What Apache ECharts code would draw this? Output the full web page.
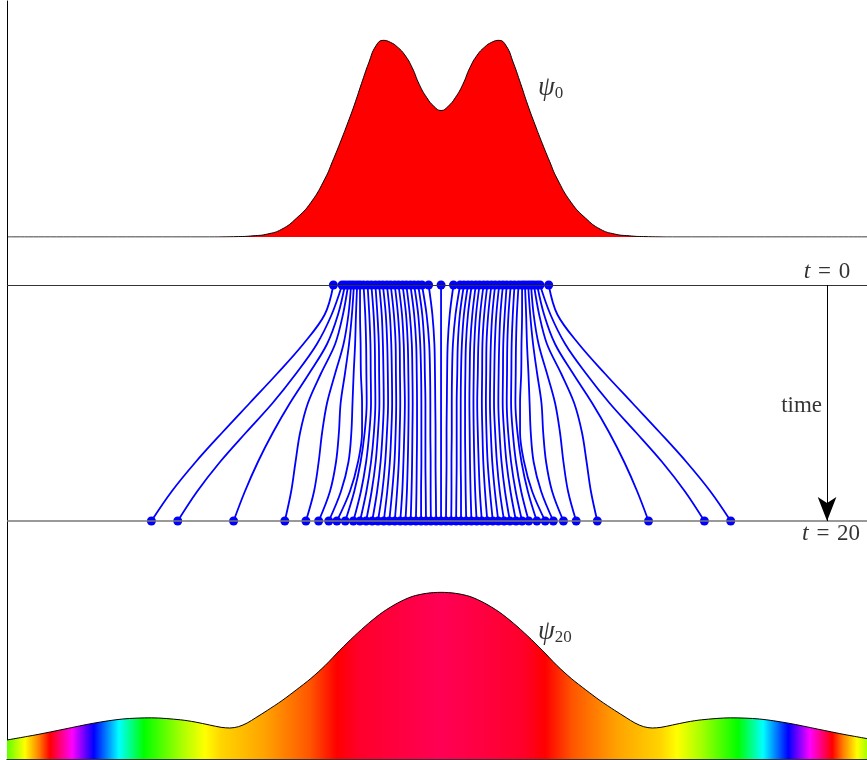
<!DOCTYPE html>
<html>
<head>
<meta charset="utf-8">
<script src="https://cdn.jsdelivr.net/npm/echarts@6/dist/echarts.min.js"></script>
<style>
  html, body { margin: 0; padding: 0; background: #ffffff; }
  #chart { width: 867px; height: 760px; }
</style>
</head>
<body>
<div id="chart"></div>
<script>
// Position axis shared by all three panels: the simulation box is [-15, 15],
// the visible window stops a little short of the right wall
const boxMin = -15, boxMax = 15;
const viewMax = 14.72;

// Initial density |psi_0|^2 (normalised to its peak)
const psi0X   = [-15, -8, -7, -6.5, -6, -5.5, -5, -4.5, -4, -3.75, -3.5, -3.25, -3, -2.75, -2.5, -2.25, -2, -1.75, -1.5, -1.25, -1, -0.75, -0.5, -0.25, 0,
                 0.25, 0.5, 0.75, 1, 1.25, 1.5, 1.75, 2, 2.25, 2.5, 2.75, 3, 3.25, 3.5, 3.75, 4, 4.5, 5, 5.5, 6, 6.5, 7, 8, 15];
const psi0Rho = [0, 0, 0.002, 0.006, 0.015, 0.04, 0.095, 0.175, 0.3, 0.385, 0.475, 0.57, 0.67, 0.78, 0.885, 0.972, 1.0, 0.99, 0.965, 0.925, 0.862, 0.775, 0.71, 0.665, 0.643,
                 0.665, 0.71, 0.775, 0.862, 0.925, 0.965, 0.99, 1.0, 0.972, 0.885, 0.78, 0.67, 0.57, 0.475, 0.385, 0.3, 0.175, 0.095, 0.04, 0.015, 0.006, 0.002, 0, 0];

// Density |psi_20|^2 at t = 20 (normalised to its peak)
const psi20X   = [-15, -14, -13, -12, -11, -10, -9, -8.5, -8, -7.6, -7.3, -7, -6.7, -6.4, -6, -5.5, -5, -4.5, -4, -3.5, -3, -2.5, -2, -1.5, -1, -0.5, 0,
                  0.5, 1, 1.5, 2, 2.5, 3, 3.5, 4, 4.5, 5, 5.5, 6, 6.4, 6.7, 7, 7.3, 7.6, 8, 8.5, 9, 10, 11, 12, 13, 14, 15];
const psi20Rho = [0.114, 0.145, 0.18, 0.215, 0.24, 0.247, 0.235, 0.222, 0.204, 0.19, 0.186, 0.194, 0.216, 0.248, 0.292, 0.35, 0.415, 0.483, 0.562, 0.652, 0.737, 0.815, 0.883, 0.936, 0.975, 0.994, 1.0,
                  0.994, 0.975, 0.936, 0.883, 0.815, 0.737, 0.652, 0.562, 0.483, 0.415, 0.35, 0.292, 0.248, 0.216, 0.194, 0.186, 0.19, 0.204, 0.222, 0.235, 0.247, 0.24, 0.215, 0.18, 0.145, 0.114];

// Phase of psi_20 shown as hue: positions and colours of the bands
const phaseX     = [-15, -14.38, -13.9, -13.52, -12.75, -12.0, -11.13, -10.27, -8.95, -8.16, -7.6, -6.08, -4.53, -3.6, -2.83, 0,
                    2.83, 3.6, 4.53, 6.08, 7.6, 8.16, 8.95, 10.27, 11.13, 12.0, 12.75, 13.52, 13.9, 14.38, 15];
const phaseColor = ['#60ff00', '#ffff00', '#ff8000', '#ff0000', '#ff00ff', '#0000ff', '#00ffff', '#00ff00', '#aaff00', '#ffff00', '#ffd500', '#ffa200', '#ff5500', '#ff0000', '#ff002b', '#ff0055',
                    '#ff002b', '#ff0000', '#ff5500', '#ffa200', '#ffd500', '#ffff00', '#aaff00', '#00ff00', '#00ffff', '#0000ff', '#ff00ff', '#ff0000', '#ff8000', '#ffff00', '#60ff00'];

// Bohmian trajectories: x position at each sampled time, outermost first
const trajTimes = [0, 2.5, 5, 7.5, 10, 12.5, 15, 17.5, 20];
const trajLeft = [
  [-3.72, -4.02, -4.76, -5.66, -6.61, -7.56, -8.48, -9.31, -10.01],
  [-3.42, -3.78, -4.29, -5.01, -5.82, -6.74, -7.64, -8.43, -9.10],
  [-3.32, -3.56, -3.94, -4.56, -5.22, -5.81, -6.33, -6.78, -7.17],
  [-3.21, -3.39, -3.66, -4.15, -4.60, -4.87, -5.03, -5.18, -5.40],
  [-3.11, -3.20, -3.37, -3.66, -3.94, -4.11, -4.23, -4.39, -4.67],
  [-3.01, -3.08, -3.18, -3.32, -3.47, -3.53, -3.63, -3.84, -4.23],
  [-2.90, -2.94, -2.97, -3.02, -3.06, -3.10, -3.20, -3.46, -3.88],
  [-2.80, -2.80, -2.78, -2.77, -2.73, -2.73, -2.87, -3.15, -3.60],
  [-2.68, -2.62, -2.59, -2.58, -2.57, -2.64, -2.78, -3.00, -3.31],
  [-2.54, -2.48, -2.44, -2.43, -2.42, -2.48, -2.59, -2.77, -3.03],
  [-2.41, -2.33, -2.29, -2.28, -2.27, -2.32, -2.42, -2.58, -2.80],
  [-2.27, -2.20, -2.15, -2.14, -2.13, -2.18, -2.26, -2.40, -2.59],
  [-2.14, -2.05, -2.01, -1.99, -1.98, -2.02, -2.09, -2.21, -2.38],
  [-2.01, -1.91, -1.86, -1.84, -1.83, -1.87, -1.93, -2.03, -2.18],
  [-1.87, -1.77, -1.72, -1.70, -1.69, -1.72, -1.77, -1.86, -1.98],
  [-1.74, -1.63, -1.57, -1.56, -1.55, -1.57, -1.61, -1.69, -1.79],
  [-1.60, -1.49, -1.43, -1.42, -1.41, -1.43, -1.46, -1.52, -1.60],
  [-1.47, -1.35, -1.29, -1.27, -1.25, -1.27, -1.30, -1.34, -1.41],
  [-1.33, -1.21, -1.15, -1.13, -1.12, -1.13, -1.15, -1.18, -1.23],
  [-1.20, -1.08, -1.01, -0.99, -0.98, -0.99, -1.00, -1.02, -1.05],
  [-1.06, -0.93, -0.86, -0.84, -0.83, -0.83, -0.84, -0.85, -0.87],
  [-0.93, -0.79, -0.72, -0.69, -0.68, -0.68, -0.68, -0.69, -0.69],
  [-0.79, -0.65, -0.58, -0.56, -0.54, -0.54, -0.54, -0.53, -0.52],
  [-0.66, -0.50, -0.41, -0.38, -0.37, -0.37, -0.36, -0.36, -0.35],
  [-0.43, -0.30, -0.23, -0.21, -0.20, -0.19, -0.19, -0.18, -0.17]
];
const trajCenter = [0, 0, 0, 0, 0, 0, 0, 0, 0];
const trajRight = [
  [3.72, 4.02, 4.76, 5.66, 6.61, 7.56, 8.48, 9.31, 10.01],
  [3.42, 3.78, 4.29, 5.01, 5.82, 6.74, 7.64, 8.43, 9.10],
  [3.32, 3.56, 3.94, 4.56, 5.22, 5.81, 6.33, 6.78, 7.17],
  [3.21, 3.39, 3.66, 4.15, 4.60, 4.87, 5.03, 5.18, 5.40],
  [3.11, 3.20, 3.37, 3.66, 3.94, 4.11, 4.23, 4.39, 4.67],
  [3.01, 3.08, 3.18, 3.32, 3.47, 3.53, 3.63, 3.84, 4.23],
  [2.90, 2.94, 2.97, 3.02, 3.06, 3.10, 3.20, 3.46, 3.88],
  [2.80, 2.80, 2.78, 2.77, 2.73, 2.73, 2.87, 3.15, 3.60],
  [2.68, 2.62, 2.59, 2.58, 2.57, 2.64, 2.78, 3.00, 3.31],
  [2.54, 2.48, 2.44, 2.43, 2.42, 2.48, 2.59, 2.77, 3.03],
  [2.41, 2.33, 2.29, 2.28, 2.27, 2.32, 2.42, 2.58, 2.80],
  [2.27, 2.20, 2.15, 2.14, 2.13, 2.18, 2.26, 2.40, 2.59],
  [2.14, 2.05, 2.01, 1.99, 1.98, 2.02, 2.09, 2.21, 2.38],
  [2.01, 1.91, 1.86, 1.84, 1.83, 1.87, 1.93, 2.03, 2.18],
  [1.87, 1.77, 1.72, 1.70, 1.69, 1.72, 1.77, 1.86, 1.98],
  [1.74, 1.63, 1.57, 1.56, 1.55, 1.57, 1.61, 1.69, 1.79],
  [1.60, 1.49, 1.43, 1.42, 1.41, 1.43, 1.46, 1.52, 1.60],
  [1.47, 1.35, 1.29, 1.27, 1.25, 1.27, 1.30, 1.34, 1.41],
  [1.33, 1.21, 1.15, 1.13, 1.12, 1.13, 1.15, 1.18, 1.23],
  [1.20, 1.08, 1.01, 0.99, 0.98, 0.99, 1.00, 1.02, 1.05],
  [1.06, 0.93, 0.86, 0.84, 0.83, 0.83, 0.84, 0.85, 0.87],
  [0.93, 0.79, 0.72, 0.69, 0.68, 0.68, 0.68, 0.69, 0.69],
  [0.79, 0.65, 0.58, 0.56, 0.54, 0.54, 0.54, 0.53, 0.52],
  [0.66, 0.50, 0.41, 0.38, 0.37, 0.37, 0.36, 0.36, 0.35],
  [0.43, 0.30, 0.23, 0.21, 0.20, 0.19, 0.19, 0.18, 0.17]
];

// Annotation anchors (data coordinates)
const timeArrowX = 13.34;
const tStart = 0, tEnd = 20;

const serif = '"Liberation Serif", "DejaVu Serif", serif';
const blue = '#0000ff';

const chart = echarts.init(document.getElementById('chart'), null, { renderer: 'canvas' });

const zip = (xs, ys) => xs.map((x, i) => [x, ys[i]]);
const hidden = { show: false };

// hue bands laid across the whole box (the area path spans boxMin..boxMax)
const phaseGradient = new echarts.graphic.LinearGradient(0, 0, 1, 0,
  phaseX.map((x, i) => ({ offset: (x - boxMin) / (boxMax - boxMin), color: phaseColor[i] })));

const trajectories = trajLeft.concat([trajCenter], trajRight);

const series = [];

// psi_0 panel
series.push({
  type: 'line', xAxisIndex: 0, yAxisIndex: 0,
  data: zip(psi0X, psi0Rho), smooth: 0.5, showSymbol: false, silent: true,
  lineStyle: { color: '#000', width: 1 },
  areaStyle: { color: '#ff0000', opacity: 1 }
});

// psi_20 panel
series.push({
  type: 'line', xAxisIndex: 2, yAxisIndex: 2,
  data: zip(psi20X, psi20Rho), smooth: 0.3, showSymbol: false, silent: true,
  lineStyle: { color: '#000', width: 1 },
  areaStyle: { color: phaseGradient, opacity: 1 }
});

// time reference lines and the time arrow
series.push({
  type: 'scatter', xAxisIndex: 1, yAxisIndex: 1, data: [], silent: true,
  markLine: {
    silent: true, symbol: 'none', animation: false,
    label: { show: false },
    data: [
      { yAxis: tStart, lineStyle: { color: '#333', width: 1, type: 'solid' } },
      { yAxis: tEnd, lineStyle: { color: '#777', width: 1.5, type: 'solid' } },
      [
        { coord: [timeArrowX, tStart], symbol: 'none' },
        { coord: [timeArrowX, tEnd], symbol: 'arrow', symbolSize: [14, 24] }
      ]
    ],
    lineStyle: { color: '#000', width: 1, type: 'solid' }
  }
});

// trajectories
trajectories.forEach(xs => {
  series.push({
    type: 'line', xAxisIndex: 1, yAxisIndex: 1,
    data: zip(xs, trajTimes), smooth: 0.35, showSymbol: false, silent: true,
    lineStyle: { color: blue, width: 1.8 }
  });
});

// start and end points
series.push({
  type: 'scatter', xAxisIndex: 1, yAxisIndex: 1, silent: true,
  symbolSize: 9, itemStyle: { color: blue, opacity: 1 },
  data: trajectories.map(xs => [xs[0], tStart]).concat(trajectories.map(xs => [xs[xs.length - 1], tEnd]))
});

// text annotations
const rich = {
  it: { fontFamily: serif, fontStyle: 'italic', fontSize: 24, color: '#000' },
  rm: { fontFamily: serif, fontSize: 23, color: '#000' },
  psi: { fontFamily: serif, fontStyle: 'italic', fontSize: 27, color: '#000' },
  sub: { fontFamily: serif, fontSize: 17, color: '#000', padding: [12, 0, 0, 0] }
};
const note = (xi, yi, point, text, position, offset) => ({
  type: 'scatter', xAxisIndex: xi, yAxisIndex: yi, silent: true, symbolSize: 0,
  data: [point],
  label: { show: true, position: position, distance: 0, offset: offset || [0, 0], formatter: text, rich: rich }
});
series.push(note(0, 0, [3.35, 0.76], '{psi|ψ}{sub|0}', 'right'));
series.push(note(2, 2, [3.35, 0.765], '{psi|ψ}{sub|20}', 'right'));
series.push(note(1, 1, [14.14, tStart], '{it|t}{rm|\u200a = \u200a0}', 'left', [0, -13]));
series.push(note(1, 1, [14.48, tEnd], '{it|t}{rm|\u200a = \u200a20}', 'left', [0, 13]));
series.push(note(1, 1, [timeArrowX, 10.25], '{rm|time}', 'left', [-5, 0]));

const frameLine = (pos, color) => ({
  type: 'value', gridIndex: 3, min: 0, max: 1, position: pos,
  axisLine: { show: true, lineStyle: { color: color, width: 1 } },
  axisTick: hidden, axisLabel: hidden, splitLine: hidden
});
const posAxis = i => ({ type: 'value', gridIndex: i, min: boxMin, max: viewMax, show: false });

chart.setOption({
  animation: false,
  backgroundColor: '#ffffff',
  grid: [
    { left: 7, right: 0, top: 1, height: 236 },
    { left: 7, right: 0, top: 285, height: 236 },
    { left: 7, right: 0, top: 559, height: 200 },
    { left: 7, right: 0, top: 1, height: 758 }
  ],
  xAxis: [
    posAxis(0), posAxis(1), posAxis(2),
    frameLine('top', '#777'),
    frameLine('bottom', '#333')
  ],
  yAxis: [
    { type: 'value', gridIndex: 0, min: 0, max: 1.2, show: false },
    { type: 'value', gridIndex: 1, min: 0, max: 20, inverse: true, show: false },
    { type: 'value', gridIndex: 2, min: 0, max: 1.2, show: false },
    {
      type: 'value', gridIndex: 3, min: 0, max: 1, position: 'left',
      axisLine: { show: true, lineStyle: { color: '#000', width: 1 } },
      axisTick: hidden, axisLabel: hidden, splitLine: hidden
    }
  ],
  series: series
});
</script>
</body>
</html>
